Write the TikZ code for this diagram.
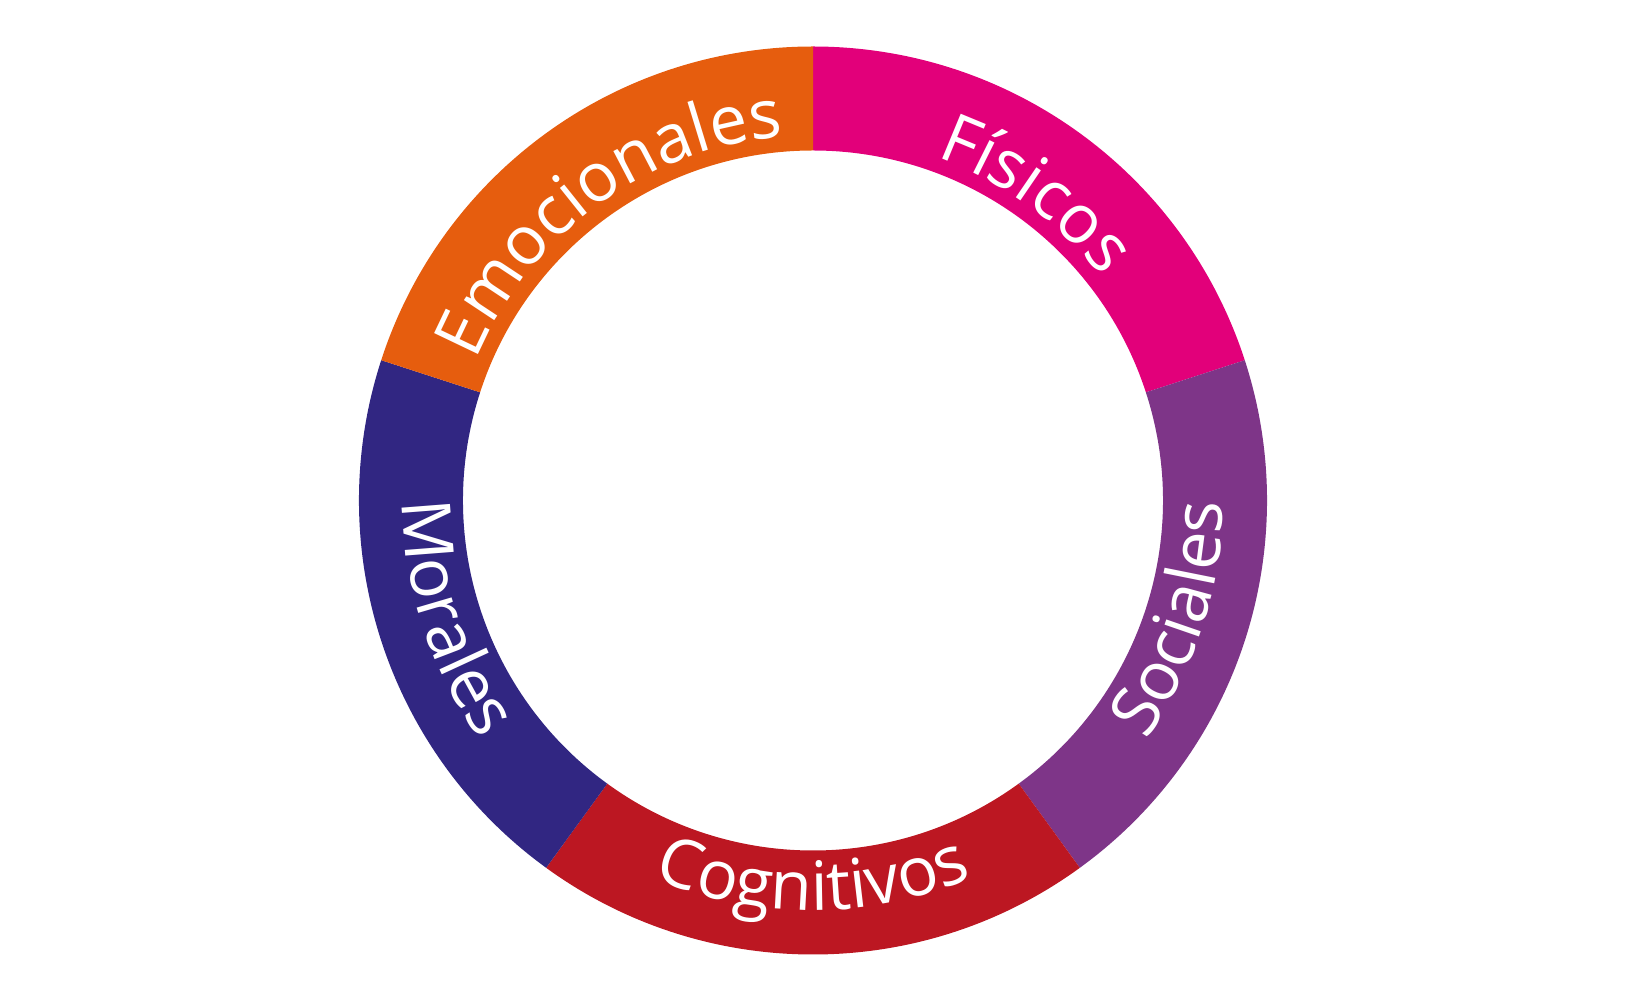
\documentclass[tikz,border=0pt]{standalone}
\usepackage{fontspec}
\setmainfont{Open Sans}
\usetikzlibrary{decorations.text}
\definecolor{fisicos}{HTML}{E2007A}
\definecolor{sociales}{HTML}{7E3588}
\definecolor{cognitivos}{HTML}{BC1722}
\definecolor{morales}{HTML}{312682}
\definecolor{emocionales}{HTML}{E65D0E}
\begin{document}
\begin{tikzpicture}
\useasboundingbox (-813pt,-507.5pt) rectangle (817pt,500.5pt);
\fontsize{68pt}{68pt}\selectfont
\foreach \s/\e/\r/\c/\t in {
  90/18/365/fisicos/Físicos,
  -54/18/410/sociales/Sociales,
  -126/-54/410/cognitivos/Cognitivos,
  -198/-126/410/morales/Morales,
  162/90/365/emocionales/Emocionales
}
{
\fill[\c] (\s:454pt) arc[start angle=\s,end angle=\e,radius=454pt]
  -- (\e:350pt) arc[start angle=\e,end angle=\s,radius=350pt] -- cycle;
\path[decorate,decoration={text along path,text/.expand once=\t,
  text align=center,text color=white}]
  (\s:\r pt) arc[start angle=\s,end angle=\e,radius=\r pt];
}
\end{tikzpicture}
\end{document}
